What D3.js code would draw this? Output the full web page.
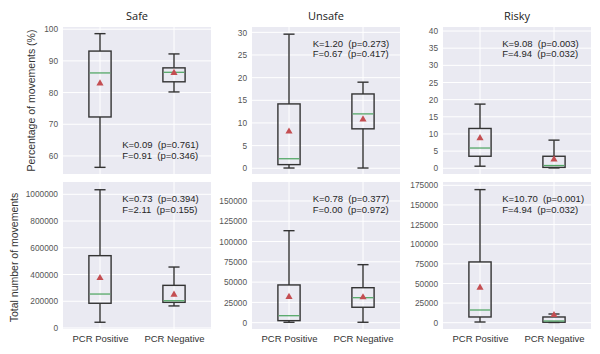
<!DOCTYPE html>
<html>
<head>
<meta charset="utf-8">
<script src="https://cdn.jsdelivr.net/npm/d3@7"></script>
<style>
  body { margin: 0; background: #fff; }
  svg { display: block; }
  .annot { white-space: pre; }
</style>
</head>
<body>
<svg id="chart" width="600" height="354"></svg>
<script>
// ---- data ----
const categories = ["PCR Positive", "PCR Negative"];
const columnTitles = ["Safe", "Unsafe", "Risky"];
const rowLabels = ["Percentage of movements (%)", "Total number of movements"];

// each box: [whiskerLow, q1, median, q3, whiskerHigh, mean]
const safePct = [[56.4, 72.3, 86.2, 93.1, 98.6, 82.9], [80.2, 83.4, 86.4, 87.8, 92.2, 86.2]];
const unsafePct = [[0.05, 0.8, 2.1, 14.2, 29.6, 8.1], [0.05, 8.7, 12.0, 16.4, 19.0, 10.8]];
const riskyPct = [[0.6, 3.5, 5.9, 11.6, 18.7, 8.8], [0.1, 0.25, 0.8, 3.5, 8.2, 2.6]];
const safeTotal = [[43000, 185000, 254000, 541000, 1034000, 374000], [165000, 192000, 204000, 319000, 456000, 249000]];
const unsafeTotal = [[500, 2500, 8600, 46500, 113400, 31700], [500, 19000, 30800, 43100, 71500, 31300]];
const riskyTotal = [[900, 7300, 16200, 77400, 169500, 44600], [300, 600, 2200, 7300, 11100, 9800]];

const yDomains = [[54.3, 100.7], [-1.27, 31.18], [-1.67, 41.17], [-7500, 1092000], [-7800, 173400], [-8000, 179200]];
const yTicks = [
  [60, 70, 80, 90, 100],
  [0, 5, 10, 15, 20, 25, 30],
  [0, 5, 10, 15, 20, 25, 30, 35, 40],
  [0, 200000, 400000, 600000, 800000, 1000000],
  [0, 25000, 50000, 75000, 100000, 125000, 150000],
  [0, 25000, 50000, 75000, 100000, 125000, 150000, 175000]
];
const statK = ["K=0.09  (p=0.761)", "K=1.20  (p=0.273)", "K=9.08  (p=0.003)", "K=0.73  (p=0.394)", "K=0.78  (p=0.377)", "K=10.70  (p=0.001)"];
const statF = ["F=0.91  (p=0.346)", "F=0.67  (p=0.417)", "F=4.94  (p=0.032)", "F=2.11  (p=0.155)", "F=0.00  (p=0.972)", "F=4.94  (p=0.032)"];

const panelData = [safePct, unsafePct, riskyPct, safeTotal, unsafeTotal, riskyTotal];

// ---- layout ----
const colX = [63, 252, 443];
const rowY = [27, 182];
const pw = 148, ph = 147;
const annotPos = [
  {fx: 0.40, fy: 0.775},
  {fx: 0.41, fy: 0.085},
  {fx: 0.40, fy: 0.085},
  {fx: 0.40, fy: 0.09},
  {fx: 0.41, fy: 0.09},
  {fx: 0.40, fy: 0.09}
];

const svg = d3.select("#chart");
const bg = "#EAEAF2";
const lineCol = "#333333";
const medCol = "#55a868";
const meanCol = "#c44e52";
const fontMain = "'Liberation Sans', Arial, sans-serif";

panelData.forEach((boxes, i) => {
  const col = i % 3, row = Math.floor(i / 3);
  const g = svg.append("g").attr("transform", `translate(${colX[col]},${rowY[row]})`);
  const x = d3.scaleLinear().domain([0.5, 2.5]).range([0, pw]);
  const y = d3.scaleLinear().domain(yDomains[i]).range([ph, 0]);

  g.append("rect").attr("width", pw).attr("height", ph).attr("fill", bg);

  g.append("g").selectAll("line").data(yTicks[i]).join("line")
    .attr("x1", 0).attr("x2", pw)
    .attr("y1", d => y(d)).attr("y2", d => y(d))
    .attr("stroke", "#fff").attr("stroke-width", 1);
  g.append("g").selectAll("line").data([1, 2]).join("line")
    .attr("y1", 0).attr("y2", ph)
    .attr("x1", d => x(d)).attr("x2", d => x(d))
    .attr("stroke", "#fff").attr("stroke-width", 1);

  const ya = g.append("g").call(d3.axisLeft(y).tickValues(yTicks[i]).tickSize(0).tickPadding(5).tickFormat(d3.format("d")));
  ya.select(".domain").remove();
  ya.selectAll("text").attr("fill", "#555").style("font-family", fontMain).style("font-size", "8.3px");

  if (row === 1) {
    const xa = g.append("g").attr("transform", `translate(0,${ph})`)
      .call(d3.axisBottom(x).tickValues([1, 2]).tickSize(0).tickPadding(6).tickFormat((d, k) => categories[k]));
    xa.select(".domain").remove();
    xa.selectAll("text").attr("fill", "#333").style("font-family", fontMain).style("font-size", "9.5px");
  }

  const bw = x(1.15) - x(1);
  boxes.forEach((b, k) => {
    const cx = x(k + 1);
    const [lo, q1, med, q3, hi, mean] = b;
    const bx = g.append("g");
    bx.append("line").attr("x1", cx).attr("x2", cx).attr("y1", y(q3)).attr("y2", y(hi)).attr("stroke", lineCol).attr("stroke-width", 1.4);
    bx.append("line").attr("x1", cx).attr("x2", cx).attr("y1", y(q1)).attr("y2", y(lo)).attr("stroke", lineCol).attr("stroke-width", 1.4);
    [lo, hi].forEach(v => bx.append("line").attr("x1", cx - bw / 2).attr("x2", cx + bw / 2).attr("y1", y(v)).attr("y2", y(v)).attr("stroke", lineCol).attr("stroke-width", 1.4));
    bx.append("rect").attr("x", cx - bw).attr("width", 2 * bw)
      .attr("y", y(q3)).attr("height", Math.max(0.5, y(q1) - y(q3)))
      .attr("fill", "none").attr("stroke", lineCol).attr("stroke-width", 1.4);
    bx.append("line").attr("x1", cx - bw + 0.7).attr("x2", cx + bw - 0.7).attr("y1", y(med)).attr("y2", y(med)).attr("stroke", medCol).attr("stroke-width", 1.3);
    bx.append("path").attr("d", d3.symbol(d3.symbolTriangle, 22)())
      .attr("transform", `translate(${cx},${y(mean)})`).attr("fill", meanCol);
  });

  const ap = annotPos[i];
  const t = g.append("text").attr("class", "annot").attr("x", pw * ap.fx).attr("y", ph * ap.fy)
    .style("font-family", fontMain).style("font-size", "9.5px").attr("fill", "#262626");
  t.append("tspan").attr("x", pw * ap.fx).attr("dy", "0.75em").text(statK[i]);
  t.append("tspan").attr("x", pw * ap.fx).attr("dy", "1.12em").text(statF[i]);

  if (row === 0) {
    svg.append("text").attr("x", colX[col] + pw / 2).attr("y", 19.5)
      .attr("text-anchor", "middle").style("font-family", "'Open Sans', sans-serif")
      .style("font-size", "11px").attr("fill", "#222").text(columnTitles[col]);
  }
});

svg.append("text").attr("transform", `translate(35,${rowY[0] + ph / 2}) rotate(-90)`)
  .attr("text-anchor", "middle").style("font-family", fontMain).style("font-size", "10.5px").attr("fill", "#333").text(rowLabels[0]);
svg.append("text").attr("transform", `translate(18,${rowY[1] + ph / 2 + 2}) rotate(-90)`)
  .attr("text-anchor", "middle").style("font-family", fontMain).style("font-size", "10.5px").attr("fill", "#333").text(rowLabels[1]);
</script>
</body>
</html>
